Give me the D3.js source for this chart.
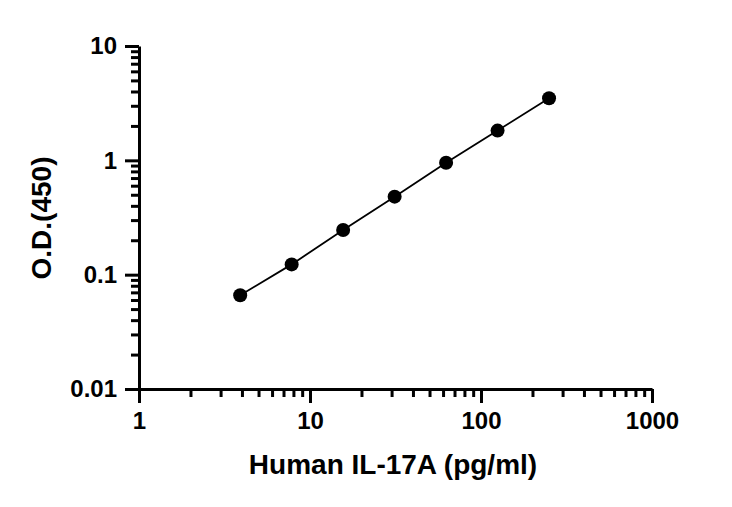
<!DOCTYPE html>
<html>
<head>
<meta charset="utf-8">
<script src="https://cdn.jsdelivr.net/npm/d3@7"></script>
<style>
  body { margin: 0; background: #fff; }
  text { font-family: "Liberation Sans", Arial, sans-serif; font-weight: bold; }
</style>
</head>
<body>
<div id="chart"></div>
<script>
// Standard curve values
const concentrations = [3.906, 7.8125, 15.625, 31.25, 62.5, 125, 250];
const odValues = [0.066, 0.123, 0.246, 0.481, 0.953, 1.82, 3.49];
const xTickValues = [1, 10, 100, 1000];
const yTickValues = [0.01, 0.1, 1, 10];
const yTickLabels = ["0.01", "0.1", "1", "10"];

var margin = { top: 46, right: 80, bottom: 118, left: 139 },
  width = 732 - margin.left - margin.right,
  height = 507 - margin.top - margin.bottom;

var svg = d3
  .select("#chart")
  .append("svg")
  .attr("width", 732)
  .attr("height", 507)
  .append("g")
  .attr("transform", "translate(" + margin.left + "," + margin.top + ")");

var x = d3.scaleLog().domain([1, 1000]).range([0, width]);
var y = d3.scaleLog().domain([0.01, 10]).range([height, 0]);

// minor ticks: 2..9 in every decade
function minorTicks(lo, hi) {
  var out = [];
  for (var p = lo; p < hi; p *= 10) {
    for (var k = 2; k <= 9; k++) out.push(p * k);
  }
  return out;
}

// X axis minor
svg
  .append("g")
  .attr("transform", "translate(0," + height + ")")
  .call(d3.axisBottom(x).tickValues(minorTicks(1, 1000)).tickSize(8).tickFormat(""))
  .call((g) => g.select(".domain").remove())
  .selectAll("line")
  .attr("stroke-width", 3);

// X axis major
var xAxis = svg
  .append("g")
  .attr("transform", "translate(0," + height + ")")
  .call(
    d3.axisBottom(x).tickValues(xTickValues).tickSize(14).tickSizeOuter(0).tickPadding(9)
      .tickFormat(d3.format("d"))
  );
xAxis.select(".domain").attr("stroke-width", 3);
xAxis.selectAll("line").attr("stroke-width", 3);
xAxis.selectAll("text").style("font-size", "24px").attr("fill", "#000");

// Y axis minor
svg
  .append("g")
  .call(d3.axisLeft(y).tickValues(minorTicks(0.01, 10)).tickSize(8).tickFormat(""))
  .call((g) => g.select(".domain").remove())
  .selectAll("line")
  .attr("stroke-width", 3);

// Y axis major
var yAxis = svg
  .append("g")
  .call(
    d3.axisLeft(y).tickValues(yTickValues).tickSize(14).tickSizeOuter(0).tickPadding(8)
      .tickFormat((d, i) => yTickLabels[i])
  );
yAxis.select(".domain").attr("stroke-width", 3);
yAxis.selectAll("line").attr("stroke-width", 3);
yAxis.selectAll("text").style("font-size", "24px").attr("fill", "#000");

// Curve
var line = d3
  .line()
  .x((d, i) => x(concentrations[i]))
  .y((d) => y(d));

svg
  .append("path")
  .datum(odValues)
  .attr("fill", "none")
  .attr("stroke", "#000")
  .attr("stroke-width", 1.8)
  .attr("d", line);

svg
  .selectAll(".dot")
  .data(odValues)
  .enter()
  .append("circle")
  .attr("class", "dot")
  .attr("cx", (d, i) => x(concentrations[i]))
  .attr("cy", (d) => y(d))
  .attr("r", 7)
  .attr("fill", "#000");

// Axis titles
svg
  .append("text")
  .attr("x", 254)
  .attr("y", height + 85)
  .attr("text-anchor", "middle")
  .style("font-size", "28px")
  .text("Human IL-17A (pg/ml)");

svg
  .append("text")
  .attr("transform", "rotate(-90)")
  .attr("x", -(218 - margin.top))
  .attr("y", -88)
  .attr("text-anchor", "middle")
  .style("font-size", "28px")
  .text("O.D.(450)");
</script>
</body>
</html>
